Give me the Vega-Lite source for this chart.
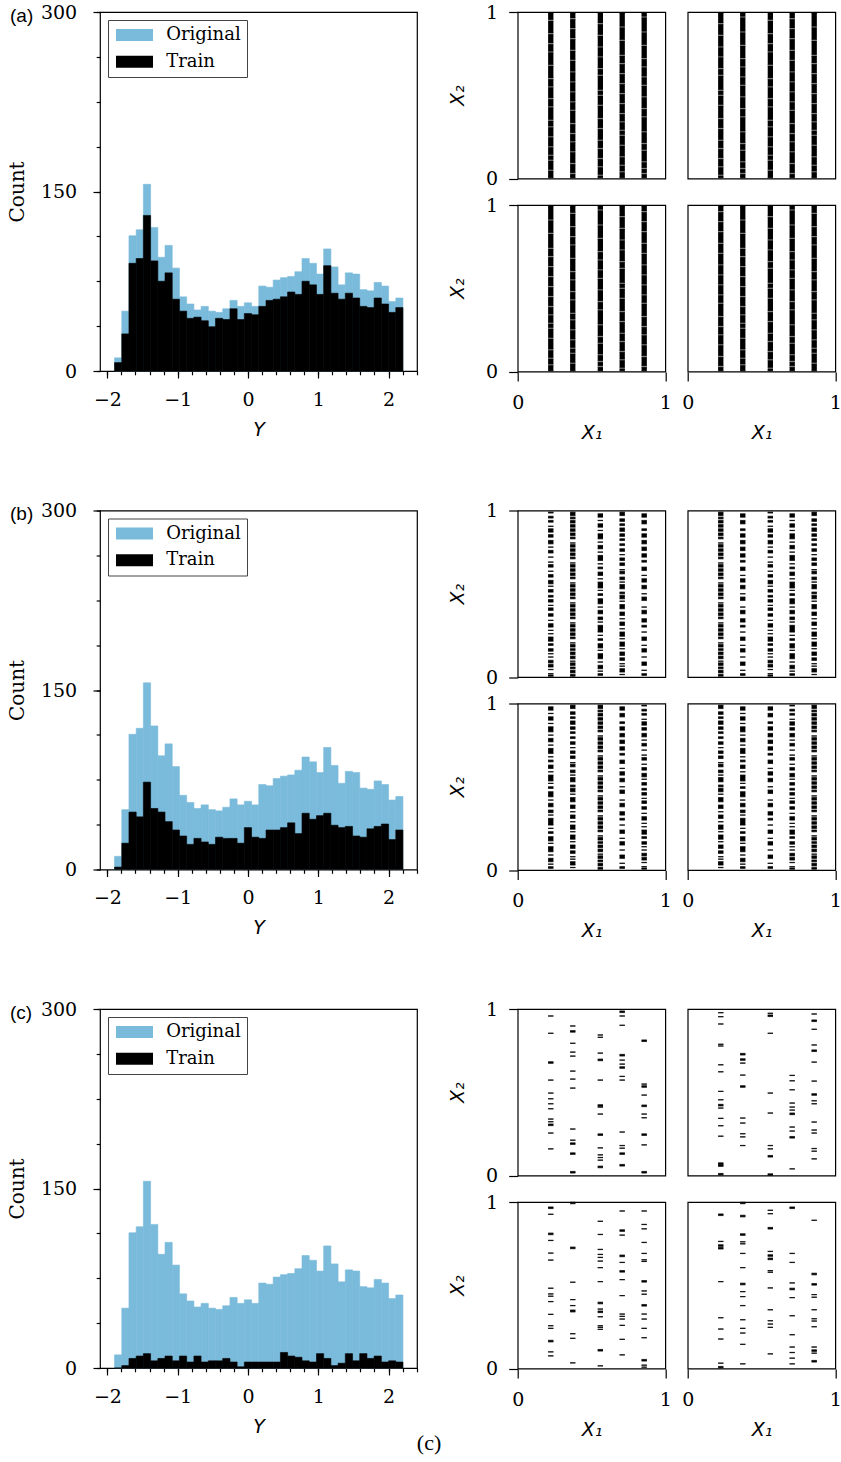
{
"$schema":"https://vega.github.io/schema/vega-lite/v6.json",
"padding":{"left":6,"top":2,"right":3,"bottom":3},
"background":"white",
"title":{"text":"(c)","orient":"bottom","anchor":"middle","frame":"bounds","offset":10.5,"baseline":"alphabetic","dx":5,"font":"Liberation Serif","fontSize":22,"fontWeight":"normal","color":"#000"},
"datasets":{
"bins":[
{"b0":-1.898,"b1":-1.795,"Original":11,"Ta":7,"Tb":2,"Tc":0},
{"b0":-1.795,"b1":-1.693,"Original":50,"Ta":31,"Tb":22,"Tc":2},
{"b0":-1.693,"b1":-1.590,"Original":113,"Ta":90,"Tb":48,"Tc":8},
{"b0":-1.590,"b1":-1.488,"Original":118,"Ta":94,"Tb":44,"Tc":10},
{"b0":-1.488,"b1":-1.385,"Original":156,"Ta":130,"Tb":73,"Tc":12},
{"b0":-1.385,"b1":-1.282,"Original":120,"Ta":92,"Tb":51,"Tc":6},
{"b0":-1.282,"b1":-1.180,"Original":95,"Ta":75,"Tb":48,"Tc":8},
{"b0":-1.180,"b1":-1.077,"Original":105,"Ta":82,"Tb":40,"Tc":10},
{"b0":-1.077,"b1":-0.975,"Original":86,"Ta":60,"Tb":33,"Tc":6},
{"b0":-0.975,"b1":-0.872,"Original":62,"Ta":50,"Tb":28,"Tc":10},
{"b0":-0.872,"b1":-0.769,"Original":56,"Ta":44,"Tb":21,"Tc":5},
{"b0":-0.769,"b1":-0.667,"Original":51,"Ta":45,"Tb":26,"Tc":10},
{"b0":-0.667,"b1":-0.564,"Original":54,"Ta":42,"Tb":23,"Tc":5},
{"b0":-0.564,"b1":-0.462,"Original":50,"Ta":37,"Tb":21,"Tc":6},
{"b0":-0.462,"b1":-0.359,"Original":49,"Ta":44,"Tb":27,"Tc":6},
{"b0":-0.359,"b1":-0.256,"Original":52,"Ta":43,"Tb":26,"Tc":8},
{"b0":-0.256,"b1":-0.154,"Original":59,"Ta":52,"Tb":26,"Tc":5},
{"b0":-0.154,"b1":-0.051,"Original":54,"Ta":43,"Tb":22,"Tc":1},
{"b0":-0.051,"b1":0.051,"Original":57,"Ta":48,"Tb":35,"Tc":5},
{"b0":0.051,"b1":0.154,"Original":54,"Ta":47,"Tb":27,"Tc":5},
{"b0":0.154,"b1":0.257,"Original":71,"Ta":54,"Tb":26,"Tc":5},
{"b0":0.257,"b1":0.359,"Original":70,"Ta":59,"Tb":33,"Tc":5},
{"b0":0.359,"b1":0.462,"Original":76,"Ta":60,"Tb":33,"Tc":5},
{"b0":0.462,"b1":0.564,"Original":78,"Ta":62,"Tb":35,"Tc":13},
{"b0":0.564,"b1":0.667,"Original":79,"Ta":66,"Tb":39,"Tc":10},
{"b0":0.667,"b1":0.769,"Original":83,"Ta":64,"Tb":30,"Tc":9},
{"b0":0.769,"b1":0.872,"Original":94,"Ta":75,"Tb":47,"Tc":6},
{"b0":0.872,"b1":0.975,"Original":90,"Ta":72,"Tb":42,"Tc":5},
{"b0":0.975,"b1":1.077,"Original":81,"Ta":64,"Tb":45,"Tc":12},
{"b0":1.077,"b1":1.180,"Original":102,"Ta":88,"Tb":47,"Tc":8},
{"b0":1.180,"b1":1.282,"Original":87,"Ta":65,"Tb":37,"Tc":2},
{"b0":1.282,"b1":1.385,"Original":72,"Ta":60,"Tb":35,"Tc":4},
{"b0":1.385,"b1":1.488,"Original":82,"Ta":65,"Tb":36,"Tc":12},
{"b0":1.488,"b1":1.590,"Original":81,"Ta":61,"Tb":28,"Tc":6},
{"b0":1.590,"b1":1.693,"Original":68,"Ta":54,"Tb":27,"Tc":12},
{"b0":1.693,"b1":1.795,"Original":67,"Ta":53,"Tb":34,"Tc":8},
{"b0":1.795,"b1":1.898,"Original":74,"Ta":61,"Tb":36,"Tc":10},
{"b0":1.898,"b1":2.001,"Original":71,"Ta":56,"Tb":38,"Tc":5},
{"b0":2.001,"b1":2.103,"Original":58,"Ta":49,"Tb":25,"Tc":6},
{"b0":2.103,"b1":2.205,"Original":61,"Ta":53,"Tb":33,"Tc":5}
],
"cols":[
{"s":"a","pr":1,"pc":1,"x":0.224,"pat":"A1"},{"s":"a","pr":1,"pc":1,"x":0.373,"pat":"A2"},{"s":"a","pr":1,"pc":1,"x":0.56,"pat":"A3"},{"s":"a","pr":1,"pc":1,"x":0.708,"pat":"A4"},{"s":"a","pr":1,"pc":1,"x":0.857,"pat":"A5"},
{"s":"a","pr":1,"pc":2,"x":0.224,"pat":"A3"},{"s":"a","pr":1,"pc":2,"x":0.373,"pat":"A5"},{"s":"a","pr":1,"pc":2,"x":0.56,"pat":"A1"},{"s":"a","pr":1,"pc":2,"x":0.708,"pat":"A2"},{"s":"a","pr":1,"pc":2,"x":0.857,"pat":"A4"},
{"s":"a","pr":2,"pc":1,"x":0.224,"pat":"A4"},{"s":"a","pr":2,"pc":1,"x":0.373,"pat":"A1"},{"s":"a","pr":2,"pc":1,"x":0.56,"pat":"A5"},{"s":"a","pr":2,"pc":1,"x":0.708,"pat":"A3"},{"s":"a","pr":2,"pc":1,"x":0.857,"pat":"A2"},
{"s":"a","pr":2,"pc":2,"x":0.224,"pat":"A2"},{"s":"a","pr":2,"pc":2,"x":0.373,"pat":"A4"},{"s":"a","pr":2,"pc":2,"x":0.56,"pat":"A3"},{"s":"a","pr":2,"pc":2,"x":0.708,"pat":"A5"},{"s":"a","pr":2,"pc":2,"x":0.857,"pat":"A1"},
{"s":"b","pr":1,"pc":1,"x":0.224,"pat":"B2"},{"s":"b","pr":1,"pc":1,"x":0.373,"pat":"B5"},{"s":"b","pr":1,"pc":1,"x":0.56,"pat":"B1"},{"s":"b","pr":1,"pc":1,"x":0.708,"pat":"B3"},{"s":"b","pr":1,"pc":1,"x":0.857,"pat":"B4"},
{"s":"b","pr":1,"pc":2,"x":0.224,"pat":"B5"},{"s":"b","pr":1,"pc":2,"x":0.373,"pat":"B4"},{"s":"b","pr":1,"pc":2,"x":0.56,"pat":"B2"},{"s":"b","pr":1,"pc":2,"x":0.708,"pat":"B1"},{"s":"b","pr":1,"pc":2,"x":0.857,"pat":"B3"},
{"s":"b","pr":2,"pc":1,"x":0.224,"pat":"B1"},{"s":"b","pr":2,"pc":1,"x":0.373,"pat":"B3"},{"s":"b","pr":2,"pc":1,"x":0.56,"pat":"B5"},{"s":"b","pr":2,"pc":1,"x":0.708,"pat":"B4"},{"s":"b","pr":2,"pc":1,"x":0.857,"pat":"B2"},
{"s":"b","pr":2,"pc":2,"x":0.224,"pat":"B3"},{"s":"b","pr":2,"pc":2,"x":0.373,"pat":"B1"},{"s":"b","pr":2,"pc":2,"x":0.56,"pat":"B4"},{"s":"b","pr":2,"pc":2,"x":0.708,"pat":"B2"},{"s":"b","pr":2,"pc":2,"x":0.857,"pat":"B5"},
{"s":"c","pr":1,"pc":1,"x":0.224,"pat":"C11_1"},{"s":"c","pr":1,"pc":1,"x":0.373,"pat":"C11_2"},{"s":"c","pr":1,"pc":1,"x":0.56,"pat":"C11_3"},{"s":"c","pr":1,"pc":1,"x":0.708,"pat":"C11_4"},{"s":"c","pr":1,"pc":1,"x":0.857,"pat":"C11_5"},
{"s":"c","pr":1,"pc":2,"x":0.224,"pat":"C12_1"},{"s":"c","pr":1,"pc":2,"x":0.373,"pat":"C12_2"},{"s":"c","pr":1,"pc":2,"x":0.56,"pat":"C12_3"},{"s":"c","pr":1,"pc":2,"x":0.708,"pat":"C12_4"},{"s":"c","pr":1,"pc":2,"x":0.857,"pat":"C12_5"},
{"s":"c","pr":2,"pc":1,"x":0.224,"pat":"C21_1"},{"s":"c","pr":2,"pc":1,"x":0.373,"pat":"C21_2"},{"s":"c","pr":2,"pc":1,"x":0.56,"pat":"C21_3"},{"s":"c","pr":2,"pc":1,"x":0.708,"pat":"C21_4"},{"s":"c","pr":2,"pc":1,"x":0.857,"pat":"C21_5"},
{"s":"c","pr":2,"pc":2,"x":0.224,"pat":"C22_1"},{"s":"c","pr":2,"pc":2,"x":0.373,"pat":"C22_2"},{"s":"c","pr":2,"pc":2,"x":0.56,"pat":"C22_3"},{"s":"c","pr":2,"pc":2,"x":0.708,"pat":"C22_4"},{"s":"c","pr":2,"pc":2,"x":0.857,"pat":"C22_5"}
],
"pats":[
{"pat":"A1","y0":[0.004,0.054,0.114,0.144,0.194,0.254,0.314,0.354,0.434,0.484,0.554,0.604,0.684,0.764,0.814,0.874,0.954],"y1":[0.046,0.106,0.136,0.186,0.246,0.306,0.346,0.426,0.476,0.546,0.596,0.676,0.756,0.806,0.866,0.946,0.994]},
{"pat":"A2","y0":[0.004,0.034,0.094,0.164,0.224,0.274,0.334,0.414,0.464,0.524,0.584,0.644,0.714,0.774,0.844,0.904,0.964],"y1":[0.026,0.086,0.156,0.216,0.266,0.326,0.406,0.456,0.516,0.576,0.636,0.706,0.766,0.836,0.896,0.956,0.994]},
{"pat":"A3","y0":[0.004,0.024,0.074,0.124,0.184,0.234,0.304,0.364,0.444,0.504,0.534,0.624,0.664,0.734,0.794,0.864,0.934],"y1":[0.016,0.066,0.116,0.176,0.226,0.296,0.356,0.436,0.496,0.526,0.616,0.656,0.726,0.786,0.856,0.926,0.994]},
{"pat":"A4","y0":[0.004,0.044,0.084,0.134,0.204,0.264,0.294,0.344,0.394,0.454,0.514,0.574,0.634,0.694,0.744,0.834,0.914],"y1":[0.036,0.076,0.126,0.196,0.256,0.286,0.336,0.386,0.446,0.506,0.566,0.626,0.686,0.736,0.826,0.906,0.994]},
{"pat":"A5","y0":[0.004,0.034,0.064,0.104,0.174,0.214,0.284,0.374,0.424,0.494,0.564,0.614,0.674,0.724,0.804,0.884,0.974],"y1":[0.026,0.056,0.096,0.166,0.206,0.276,0.366,0.416,0.486,0.556,0.606,0.666,0.716,0.796,0.876,0.966,0.994]},
{"pat":"B1","y0":[0.01,0.035,0.05,0.09,0.11,0.16,0.175,0.22,0.25,0.27,0.33,0.345,0.38,0.42,0.44,0.49,0.52,0.535,0.59,0.61,0.65,0.68,0.70,0.75,0.77,0.81,0.83,0.88,0.90,0.94,0.96],"y1":[0.02,0.035,0.07,0.09,0.14,0.16,0.20,0.23,0.25,0.31,0.33,0.36,0.40,0.42,0.47,0.50,0.52,0.57,0.59,0.63,0.66,0.68,0.73,0.75,0.79,0.81,0.86,0.88,0.92,0.94,0.98]},
{"pat":"B2","y0":[0.005,0.02,0.045,0.06,0.085,0.12,0.14,0.155,0.19,0.215,0.26,0.28,0.30,0.34,0.365,0.40,0.43,0.45,0.48,0.51,0.545,0.56,0.60,0.635,0.66,0.69,0.72,0.745,0.78,0.80,0.84,0.87,0.905,0.93,0.955,0.985],"y1":[0.012,0.02,0.045,0.075,0.10,0.12,0.14,0.17,0.20,0.24,0.26,0.28,0.32,0.34,0.38,0.415,0.43,0.465,0.49,0.525,0.545,0.58,0.615,0.635,0.675,0.69,0.72,0.76,0.78,0.82,0.855,0.89,0.905,0.94,0.965,0.99]},
{"pat":"B3","y0":[0.015,0.03,0.065,0.08,0.10,0.13,0.17,0.185,0.23,0.245,0.29,0.31,0.35,0.37,0.41,0.455,0.47,0.50,0.53,0.57,0.585,0.62,0.645,0.67,0.70,0.735,0.755,0.79,0.82,0.845,0.875,0.91,0.935,0.97],"y1":[0.015,0.05,0.065,0.08,0.115,0.15,0.17,0.21,0.23,0.27,0.29,0.33,0.35,0.39,0.435,0.455,0.49,0.51,0.555,0.57,0.60,0.635,0.645,0.685,0.715,0.735,0.77,0.80,0.83,0.86,0.895,0.92,0.95,0.99]},
{"pat":"B4","y0":[0.01,0.04,0.07,0.12,0.15,0.19,0.22,0.27,0.30,0.33,0.38,0.42,0.46,0.50,0.53,0.57,0.61,0.64,0.69,0.72,0.76,0.80,0.84,0.88,0.92,0.96],"y1":[0.02,0.04,0.09,0.12,0.17,0.19,0.24,0.27,0.31,0.35,0.40,0.42,0.48,0.50,0.55,0.59,0.61,0.66,0.70,0.74,0.78,0.82,0.86,0.89,0.94,0.98]},
{"pat":"B5","y0":[0.005,0.025,0.05,0.07,0.095,0.11,0.135,0.16,0.18,0.205,0.23,0.25,0.275,0.30,0.325,0.35,0.37,0.395,0.42,0.445,0.47,0.49,0.515,0.54,0.565,0.59,0.61,0.635,0.66,0.685,0.71,0.73,0.755,0.78,0.805,0.83,0.85,0.875,0.90,0.925,0.95,0.97],"y1":[0.015,0.04,0.06,0.085,0.095,0.125,0.15,0.17,0.195,0.205,0.24,0.265,0.29,0.315,0.325,0.36,0.385,0.41,0.435,0.445,0.48,0.505,0.53,0.555,0.565,0.60,0.625,0.65,0.675,0.685,0.72,0.745,0.77,0.795,0.805,0.84,0.865,0.89,0.915,0.94,0.96,0.99]},
{"pat":"C11_1","y0":[0.958,0.854,0.674,0.573,0.495,0.461,0.431,0.401,0.339,0.323,0.300,0.255,0.160],"y1":[0.958,0.854,0.683,0.573,0.495,0.461,0.431,0.401,0.339,0.323,0.309,0.255,0.160]},
{"pat":"C11_2","y0":[0.898,0.861,0.794,0.741,0.717,0.627,0.579,0.525,0.279,0.212,0.187,0.127,0.015],"y1":[0.898,0.870,0.794,0.741,0.717,0.627,0.579,0.525,0.279,0.212,0.196,0.136,0.024]},
{"pat":"C11_3","y0":[0.844,0.830,0.735,0.690,0.573,0.416,0.411,0.369,0.241,0.166,0.124,0.108,0.092,0.047],"y1":[0.844,0.830,0.735,0.699,0.573,0.425,0.411,0.369,0.250,0.166,0.124,0.108,0.092,0.056]},
{"pat":"C11_4","y0":[0.979,0.958,0.902,0.718,0.693,0.669,0.644,0.595,0.573,0.261,0.180,0.164,0.127,0.057],"y1":[0.988,0.958,0.902,0.727,0.693,0.669,0.653,0.595,0.573,0.261,0.180,0.164,0.136,0.066]},
{"pat":"C11_5","y0":[0.805,0.549,0.530,0.483,0.414,0.369,0.347,0.241,0.184,0.015],"y1":[0.814,0.549,0.539,0.483,0.423,0.369,0.347,0.250,0.184,0.024]},
{"pat":"C12_1","y0":[0.978,0.954,0.910,0.788,0.778,0.665,0.623,0.505,0.455,0.418,0.405,0.343,0.299,0.236,0.067,0.055,0.004],"y1":[0.978,0.954,0.910,0.788,0.778,0.665,0.623,0.505,0.455,0.427,0.405,0.343,0.299,0.236,0.076,0.064,0.012]},
{"pat":"C12_2","y0":[0.724,0.692,0.675,0.603,0.530,0.345,0.315,0.251,0.232,0.180],"y1":[0.733,0.701,0.675,0.603,0.539,0.345,0.315,0.251,0.232,0.180]},
{"pat":"C12_3","y0":[0.974,0.955,0.854,0.495,0.375,0.180,0.160,0.111,0.002],"y1":[0.974,0.964,0.854,0.495,0.375,0.180,0.160,0.120,0.010]},
{"pat":"C12_4","y0":[0.601,0.569,0.515,0.435,0.411,0.393,0.366,0.291,0.267,0.225,0.040],"y1":[0.601,0.569,0.515,0.435,0.411,0.393,0.375,0.291,0.267,0.234,0.040]},
{"pat":"C12_5","y0":[0.970,0.925,0.878,0.784,0.745,0.681,0.567,0.482,0.449,0.431,0.321,0.273,0.255,0.162,0.146,0.100],"y1":[0.970,0.934,0.878,0.784,0.754,0.681,0.567,0.491,0.449,0.431,0.321,0.273,0.255,0.162,0.146,0.100]},
{"pat":"C21_1","y0":[0.961,0.926,0.804,0.769,0.693,0.651,0.482,0.448,0.434,0.402,0.325,0.257,0.241,0.160,0.100,0.076],"y1":[0.970,0.926,0.813,0.769,0.693,0.651,0.482,0.448,0.434,0.402,0.325,0.257,0.241,0.169,0.100,0.076]},
{"pat":"C21_2","y0":[0.990,0.720,0.518,0.414,0.378,0.340,0.209,0.181,0.034],"y1":[0.998,0.729,0.518,0.414,0.378,0.351,0.209,0.181,0.034]},
{"pat":"C21_3","y0":[0.884,0.805,0.715,0.685,0.667,0.645,0.606,0.522,0.389,0.357,0.336,0.311,0.257,0.247,0.235,0.105,0.016],"y1":[0.884,0.805,0.715,0.685,0.667,0.645,0.606,0.522,0.398,0.357,0.345,0.311,0.257,0.247,0.235,0.114,0.016]},
{"pat":"C21_4","y0":[0.946,0.824,0.801,0.672,0.637,0.579,0.534,0.438,0.327,0.313,0.297,0.259,0.175,0.082],"y1":[0.946,0.833,0.801,0.681,0.637,0.588,0.534,0.438,0.327,0.313,0.297,0.259,0.175,0.082]},
{"pat":"C21_5","y0":[0.946,0.865,0.839,0.757,0.691,0.653,0.643,0.519,0.466,0.446,0.375,0.327,0.297,0.241,0.185,0.045,0.020,0.008],"y1":[0.946,0.865,0.839,0.757,0.691,0.653,0.643,0.528,0.466,0.446,0.384,0.327,0.297,0.241,0.185,0.054,0.020,0.008]},
{"pat":"C22_1","y0":[0.919,0.763,0.734,0.718,0.522,0.305,0.237,0.177,0.032,0.004],"y1":[0.928,0.763,0.743,0.727,0.522,0.305,0.237,0.177,0.032,0.012]},
{"pat":"C22_2","y0":[0.990,0.911,0.800,0.761,0.749,0.691,0.606,0.503,0.462,0.432,0.378,0.293,0.241,0.213,0.145,0.028],"y1":[0.998,0.920,0.809,0.761,0.749,0.691,0.606,0.512,0.462,0.432,0.378,0.293,0.241,0.213,0.145,0.028]},
{"pat":"C22_3","y0":[0.950,0.930,0.838,0.703,0.674,0.654,0.588,0.578,0.484,0.353,0.287,0.267,0.247,0.088],"y1":[0.950,0.930,0.847,0.703,0.683,0.663,0.588,0.578,0.484,0.353,0.287,0.267,0.247,0.088]},
{"pat":"C22_4","y0":[0.961,0.691,0.637,0.514,0.473,0.426,0.317,0.203,0.129,0.096,0.062,0.028],"y1":[0.970,0.691,0.637,0.514,0.482,0.426,0.317,0.203,0.129,0.096,0.062,0.028]},
{"pat":"C22_5","y0":[0.890,0.563,0.501,0.444,0.428,0.353,0.299,0.285,0.251,0.129,0.103,0.092,0.039],"y1":[0.890,0.572,0.510,0.444,0.428,0.353,0.299,0.285,0.251,0.129,0.112,0.092,0.048]}
]
},
"vconcat":[
{"hconcat":[
 {"width":317,"height":359,
  "title":{"text":"(a)","anchor":"start","frame":"group","orient":"top","offset":0,"baseline":"alphabetic","dx":-90,"dy":37.9,"font":"Liberation Sans","fontSize":19,"fontWeight":"normal","color":"#000"},
  "data":{"name":"bins"},
  "layer":[
   {"mark":{"type":"rect","stroke":"#7abbdb","strokeWidth":0.6},
    "encoding":{
     "x":{"field":"b0","type":"quantitative","scale":{"domain":[-2.105,2.405],"nice":false,"zero":false},"axis":{"orient":"bottom","values":[-2,-1,0,1,2],"tickSize":7,"labelPadding":12,"labelFont":"DejaVu Serif","labelFontSize":19,"title":"Y","titleFont":"DejaVu Sans","titleFontStyle":"italic","titleFontWeight":"normal","titleFontSize":19,"titleY":64,"titleBaseline":"alphabetic"}},
     "x2":{"field":"b1"},
     "y":{"field":"Original","type":"quantitative","scale":{"domain":[0,300],"nice":false,"zero":true},"axis":{"orient":"left","values":[0,150,300],"tickSize":7,"labelPadding":16.3,"labelFont":"DejaVu Serif","labelFontSize":19,"labelBaseline":"middle","title":"Count","titleFont":"DejaVu Serif","titleFontWeight":"normal","titleFontSize":20,"titleX":-82.7,"titleY":179.5,"titleAngle":-90,"titleBaseline":"middle","titleAlign":"center"}},
     "y2":{"datum":0},
     "color":{"datum":"Original","type":"nominal","scale":{"domain":["Original","Train"],"range":["#7abbdb","#000000"]},"legend":{"orient":"top-left","offset":8,"title":null,"padding":6,"strokeColor":"#444","fillColor":"#fff","cornerRadius":0,"symbolType":"M-2.056,-0.667H2.056V0.667H-2.056Z","symbolSize":324,"symbolStrokeWidth":0,"symbolOffset":11.5,"labelOffset":22.7,"rowPadding":8.7,"labelFont":"DejaVu Serif","labelFontSize":18,"labelColor":"#000","labelLimit":0}}
    }},
   {"mark":{"type":"rect","stroke":"#000","strokeWidth":0.6},
    "encoding":{
     "x":{"field":"b0","type":"quantitative","axis":{"orient":"bottom","values":[-2,-1.8,-1.6,-1.4,-1.2,-1,-0.8,-0.6,-0.4,-0.2,0,0.2,0.4,0.6,0.8,1,1.2,1.4,1.6,1.8,2,2.2,2.4],"tickSize":3.8,"labels":false,"title":null}},
     "x2":{"field":"b1"},
     "y":{"field":"Ta","type":"quantitative","axis":{"orient":"left","values":[0,37.5,75,112.5,150,187.5,225,262.5,300],"tickSize":3.8,"labels":false,"title":null}},
     "y2":{"datum":0},
     "color":{"datum":"Train","type":"nominal"}
    }}
  ],
  "resolve":{"axis":{"x":"independent","y":"independent"}}
 },
 {"data":{"name":"cols"},
  "transform":[{"filter":"datum.s==='a'"},{"lookup":"pat","from":{"data":{"name":"pats"},"key":"pat","fields":["y0","y1"]}},{"flatten":["y0","y1"]}],
  "facet":{"row":{"field":"pr","type":"ordinal","title":null,"header":{"labels":false,"title":null}},"column":{"field":"pc","type":"ordinal","title":null,"header":{"labels":false,"title":null}}},
  "spacing":{"row":26,"column":22},
  "bounds":"flush",
  "spec":{"width":147.6,"height":166.5,
   "encoding":{"x":{"field":"x","type":"quantitative","scale":{"domain":[0,1],"nice":false,"zero":false},"axis":{"values":[0,1],"format":"d","tickSize":9,"labelPadding":12,"labelFont":"DejaVu Serif","labelFontSize":19,"title":"X₁","titleFont":"DejaVu Sans","titleFontStyle":"italic","titleFontWeight":"normal","titleFontSize":19,"titleY":60,"titleBaseline":"middle"}}},
   "layer":[
    {"mark":{"type":"rule","strokeWidth":5.3,"strokeCap":"butt","color":"#000"},"encoding":{"y":{"field":"y0","type":"quantitative","scale":{"domain":[0,1],"nice":false,"zero":false},"axis":{"values":[0,1],"format":"d","tickSize":9,"labelPadding":11,"labelFont":"DejaVu Serif","labelFontSize":19,"labelBaseline":"middle","title":"X₂","titleFont":"DejaVu Sans","titleFontStyle":"italic","titleFontWeight":"normal","titleFontSize":19,"titleX":-60,"titleY":83.25,"titleAngle":-90,"titleBaseline":"middle","titleAlign":"center"}},"y2":{"field":"y1"}}},
    {"mark":{"type":"tick","orient":"horizontal","size":5.3,"thickness":1.2,"color":"#000"},"encoding":{"y":{"field":"y0","type":"quantitative","axis":{"values":[0,1],"format":"d","tickSize":9,"labelPadding":11,"labelFont":"DejaVu Serif","labelFontSize":19,"labelBaseline":"middle","title":"X₂","titleFont":"DejaVu Sans","titleFontStyle":"italic","titleFontWeight":"normal","titleFontSize":19,"titleX":-60,"titleY":83.25,"titleAngle":-90,"titleBaseline":"middle","titleAlign":"center"}}}},
    {"mark":{"type":"tick","orient":"horizontal","size":5.3,"thickness":1.2,"color":"#000"},"encoding":{"y":{"field":"y1","type":"quantitative","axis":{"values":[0,1],"format":"d","tickSize":9,"labelPadding":11,"labelFont":"DejaVu Serif","labelFontSize":19,"labelBaseline":"middle","title":"X₂","titleFont":"DejaVu Sans","titleFontStyle":"italic","titleFontWeight":"normal","titleFontSize":19,"titleX":-60,"titleY":83.25,"titleAngle":-90,"titleBaseline":"middle","titleAlign":"center"}}}}
   ]}
 }
],"spacing":100.7,"bounds":"flush","resolve":{"scale":{"color":"independent"}}},
{"hconcat":[
 {"width":317,"height":359,
  "title":{"text":"(b)","anchor":"start","frame":"group","orient":"top","offset":0,"baseline":"alphabetic","dx":-90,"dy":37.9,"font":"Liberation Sans","fontSize":19,"fontWeight":"normal","color":"#000"},
  "data":{"name":"bins"},
  "layer":[
   {"mark":{"type":"rect","stroke":"#7abbdb","strokeWidth":0.6},
    "encoding":{
     "x":{"field":"b0","type":"quantitative","scale":{"domain":[-2.105,2.405],"nice":false,"zero":false},"axis":{"orient":"bottom","values":[-2,-1,0,1,2],"tickSize":7,"labelPadding":12,"labelFont":"DejaVu Serif","labelFontSize":19,"title":"Y","titleFont":"DejaVu Sans","titleFontStyle":"italic","titleFontWeight":"normal","titleFontSize":19,"titleY":64,"titleBaseline":"alphabetic"}},
     "x2":{"field":"b1"},
     "y":{"field":"Original","type":"quantitative","scale":{"domain":[0,300],"nice":false,"zero":true},"axis":{"orient":"left","values":[0,150,300],"tickSize":7,"labelPadding":16.3,"labelFont":"DejaVu Serif","labelFontSize":19,"labelBaseline":"middle","title":"Count","titleFont":"DejaVu Serif","titleFontWeight":"normal","titleFontSize":20,"titleX":-82.7,"titleY":179.5,"titleAngle":-90,"titleBaseline":"middle","titleAlign":"center"}},
     "y2":{"datum":0},
     "color":{"datum":"Original","type":"nominal","scale":{"domain":["Original","Train"],"range":["#7abbdb","#000000"]},"legend":{"orient":"top-left","offset":8,"title":null,"padding":6,"strokeColor":"#444","fillColor":"#fff","cornerRadius":0,"symbolType":"M-2.056,-0.667H2.056V0.667H-2.056Z","symbolSize":324,"symbolStrokeWidth":0,"symbolOffset":11.5,"labelOffset":22.7,"rowPadding":8.7,"labelFont":"DejaVu Serif","labelFontSize":18,"labelColor":"#000","labelLimit":0}}
    }},
   {"mark":{"type":"rect","stroke":"#000","strokeWidth":0.6},
    "encoding":{
     "x":{"field":"b0","type":"quantitative","axis":{"orient":"bottom","values":[-2,-1.8,-1.6,-1.4,-1.2,-1,-0.8,-0.6,-0.4,-0.2,0,0.2,0.4,0.6,0.8,1,1.2,1.4,1.6,1.8,2,2.2,2.4],"tickSize":3.8,"labels":false,"title":null}},
     "x2":{"field":"b1"},
     "y":{"field":"Tb","type":"quantitative","axis":{"orient":"left","values":[0,37.5,75,112.5,150,187.5,225,262.5,300],"tickSize":3.8,"labels":false,"title":null}},
     "y2":{"datum":0},
     "color":{"datum":"Train","type":"nominal"}
    }}
  ],
  "resolve":{"axis":{"x":"independent","y":"independent"}}
 },
 {"data":{"name":"cols"},
  "transform":[{"filter":"datum.s==='b'"},{"lookup":"pat","from":{"data":{"name":"pats"},"key":"pat","fields":["y0","y1"]}},{"flatten":["y0","y1"]}],
  "facet":{"row":{"field":"pr","type":"ordinal","title":null,"header":{"labels":false,"title":null}},"column":{"field":"pc","type":"ordinal","title":null,"header":{"labels":false,"title":null}}},
  "spacing":{"row":26,"column":22},
  "bounds":"flush",
  "spec":{"width":147.6,"height":166.5,
   "encoding":{"x":{"field":"x","type":"quantitative","scale":{"domain":[0,1],"nice":false,"zero":false},"axis":{"values":[0,1],"format":"d","tickSize":9,"labelPadding":12,"labelFont":"DejaVu Serif","labelFontSize":19,"title":"X₁","titleFont":"DejaVu Sans","titleFontStyle":"italic","titleFontWeight":"normal","titleFontSize":19,"titleY":60,"titleBaseline":"middle"}}},
   "layer":[
    {"mark":{"type":"rule","strokeWidth":5.3,"strokeCap":"butt","color":"#000"},"encoding":{"y":{"field":"y0","type":"quantitative","scale":{"domain":[0,1],"nice":false,"zero":false},"axis":{"values":[0,1],"format":"d","tickSize":9,"labelPadding":11,"labelFont":"DejaVu Serif","labelFontSize":19,"labelBaseline":"middle","title":"X₂","titleFont":"DejaVu Sans","titleFontStyle":"italic","titleFontWeight":"normal","titleFontSize":19,"titleX":-60,"titleY":83.25,"titleAngle":-90,"titleBaseline":"middle","titleAlign":"center"}},"y2":{"field":"y1"}}},
    {"mark":{"type":"tick","orient":"horizontal","size":5.3,"thickness":1.2,"color":"#000"},"encoding":{"y":{"field":"y0","type":"quantitative","axis":{"values":[0,1],"format":"d","tickSize":9,"labelPadding":11,"labelFont":"DejaVu Serif","labelFontSize":19,"labelBaseline":"middle","title":"X₂","titleFont":"DejaVu Sans","titleFontStyle":"italic","titleFontWeight":"normal","titleFontSize":19,"titleX":-60,"titleY":83.25,"titleAngle":-90,"titleBaseline":"middle","titleAlign":"center"}}}},
    {"mark":{"type":"tick","orient":"horizontal","size":5.3,"thickness":1.2,"color":"#000"},"encoding":{"y":{"field":"y1","type":"quantitative","axis":{"values":[0,1],"format":"d","tickSize":9,"labelPadding":11,"labelFont":"DejaVu Serif","labelFontSize":19,"labelBaseline":"middle","title":"X₂","titleFont":"DejaVu Sans","titleFontStyle":"italic","titleFontWeight":"normal","titleFontSize":19,"titleX":-60,"titleY":83.25,"titleAngle":-90,"titleBaseline":"middle","titleAlign":"center"}}}}
   ]}
 }
],"spacing":100.7,"bounds":"flush","resolve":{"scale":{"color":"independent"}}},
{"hconcat":[
 {"width":317,"height":359,
  "title":{"text":"(c)","anchor":"start","frame":"group","orient":"top","offset":0,"baseline":"alphabetic","dx":-90,"dy":37.9,"font":"Liberation Sans","fontSize":19,"fontWeight":"normal","color":"#000"},
  "data":{"name":"bins"},
  "layer":[
   {"mark":{"type":"rect","stroke":"#7abbdb","strokeWidth":0.6},
    "encoding":{
     "x":{"field":"b0","type":"quantitative","scale":{"domain":[-2.105,2.405],"nice":false,"zero":false},"axis":{"orient":"bottom","values":[-2,-1,0,1,2],"tickSize":7,"labelPadding":12,"labelFont":"DejaVu Serif","labelFontSize":19,"title":"Y","titleFont":"DejaVu Sans","titleFontStyle":"italic","titleFontWeight":"normal","titleFontSize":19,"titleY":64,"titleBaseline":"alphabetic"}},
     "x2":{"field":"b1"},
     "y":{"field":"Original","type":"quantitative","scale":{"domain":[0,300],"nice":false,"zero":true},"axis":{"orient":"left","values":[0,150,300],"tickSize":7,"labelPadding":16.3,"labelFont":"DejaVu Serif","labelFontSize":19,"labelBaseline":"middle","title":"Count","titleFont":"DejaVu Serif","titleFontWeight":"normal","titleFontSize":20,"titleX":-82.7,"titleY":179.5,"titleAngle":-90,"titleBaseline":"middle","titleAlign":"center"}},
     "y2":{"datum":0},
     "color":{"datum":"Original","type":"nominal","scale":{"domain":["Original","Train"],"range":["#7abbdb","#000000"]},"legend":{"orient":"top-left","offset":8,"title":null,"padding":6,"strokeColor":"#444","fillColor":"#fff","cornerRadius":0,"symbolType":"M-2.056,-0.667H2.056V0.667H-2.056Z","symbolSize":324,"symbolStrokeWidth":0,"symbolOffset":11.5,"labelOffset":22.7,"rowPadding":8.7,"labelFont":"DejaVu Serif","labelFontSize":18,"labelColor":"#000","labelLimit":0}}
    }},
   {"mark":{"type":"rect","stroke":"#000","strokeWidth":0.6},
    "encoding":{
     "x":{"field":"b0","type":"quantitative","axis":{"orient":"bottom","values":[-2,-1.8,-1.6,-1.4,-1.2,-1,-0.8,-0.6,-0.4,-0.2,0,0.2,0.4,0.6,0.8,1,1.2,1.4,1.6,1.8,2,2.2,2.4],"tickSize":3.8,"labels":false,"title":null}},
     "x2":{"field":"b1"},
     "y":{"field":"Tc","type":"quantitative","axis":{"orient":"left","values":[0,37.5,75,112.5,150,187.5,225,262.5,300],"tickSize":3.8,"labels":false,"title":null}},
     "y2":{"datum":0},
     "color":{"datum":"Train","type":"nominal"}
    }}
  ],
  "resolve":{"axis":{"x":"independent","y":"independent"}}
 },
 {"data":{"name":"cols"},
  "transform":[{"filter":"datum.s==='c'"},{"lookup":"pat","from":{"data":{"name":"pats"},"key":"pat","fields":["y0","y1"]}},{"flatten":["y0","y1"]}],
  "facet":{"row":{"field":"pr","type":"ordinal","title":null,"header":{"labels":false,"title":null}},"column":{"field":"pc","type":"ordinal","title":null,"header":{"labels":false,"title":null}}},
  "spacing":{"row":26,"column":22},
  "bounds":"flush",
  "spec":{"width":147.6,"height":166.5,
   "encoding":{"x":{"field":"x","type":"quantitative","scale":{"domain":[0,1],"nice":false,"zero":false},"axis":{"values":[0,1],"format":"d","tickSize":9,"labelPadding":12,"labelFont":"DejaVu Serif","labelFontSize":19,"title":"X₁","titleFont":"DejaVu Sans","titleFontStyle":"italic","titleFontWeight":"normal","titleFontSize":19,"titleY":60,"titleBaseline":"middle"}}},
   "layer":[
    {"mark":{"type":"rule","strokeWidth":5.3,"strokeCap":"butt","color":"#000"},"encoding":{"y":{"field":"y0","type":"quantitative","scale":{"domain":[0,1],"nice":false,"zero":false},"axis":{"values":[0,1],"format":"d","tickSize":9,"labelPadding":11,"labelFont":"DejaVu Serif","labelFontSize":19,"labelBaseline":"middle","title":"X₂","titleFont":"DejaVu Sans","titleFontStyle":"italic","titleFontWeight":"normal","titleFontSize":19,"titleX":-60,"titleY":83.25,"titleAngle":-90,"titleBaseline":"middle","titleAlign":"center"}},"y2":{"field":"y1"}}},
    {"mark":{"type":"tick","orient":"horizontal","size":5.3,"thickness":1.2,"color":"#000"},"encoding":{"y":{"field":"y0","type":"quantitative","axis":{"values":[0,1],"format":"d","tickSize":9,"labelPadding":11,"labelFont":"DejaVu Serif","labelFontSize":19,"labelBaseline":"middle","title":"X₂","titleFont":"DejaVu Sans","titleFontStyle":"italic","titleFontWeight":"normal","titleFontSize":19,"titleX":-60,"titleY":83.25,"titleAngle":-90,"titleBaseline":"middle","titleAlign":"center"}}}},
    {"mark":{"type":"tick","orient":"horizontal","size":5.3,"thickness":1.2,"color":"#000"},"encoding":{"y":{"field":"y1","type":"quantitative","axis":{"values":[0,1],"format":"d","tickSize":9,"labelPadding":11,"labelFont":"DejaVu Serif","labelFontSize":19,"labelBaseline":"middle","title":"X₂","titleFont":"DejaVu Sans","titleFontStyle":"italic","titleFontWeight":"normal","titleFontSize":19,"titleX":-60,"titleY":83.25,"titleAngle":-90,"titleBaseline":"middle","titleAlign":"center"}}}}
   ]}
 }
],"spacing":100.7,"bounds":"flush","resolve":{"scale":{"color":"independent"}}}
],
"spacing":58.5,
"bounds":"full",
"resolve":{"scale":{"color":"independent"}},
"config":{
 "view":{"stroke":"#000","strokeWidth":1.2},
 "axis":{"tickColor":"#000","tickWidth":1.2,"labelColor":"#000","titleColor":"#000","grid":false,"domain":false,"labelFlush":false,"labelOverlap":false,"labelBound":false},
 "font":"DejaVu Serif"
}
}
